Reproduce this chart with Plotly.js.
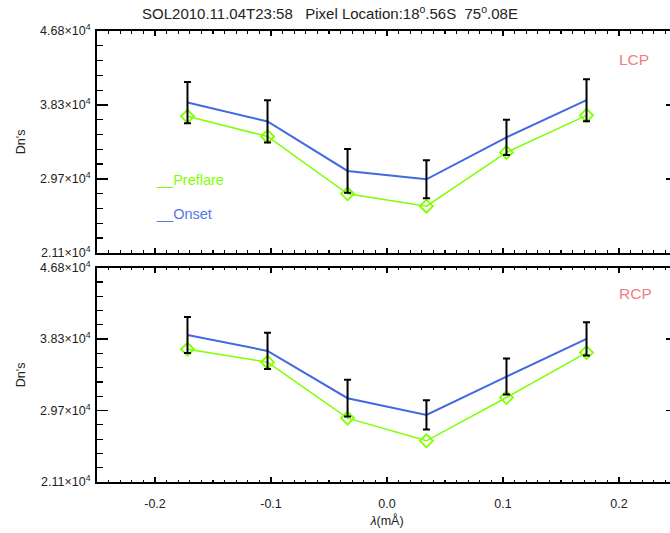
<!DOCTYPE html>
<html>
<head>
<meta charset="utf-8">
<script src="https://cdn.plot.ly/plotly-3.0.1.min.js"></script>
<style>
html, body { margin: 0; padding: 0; overflow: hidden; background: #fff; width: 670px; height: 533px; }
#chart { width: 680px; height: 533px; }
</style>
</head>
<body>
<div id="chart"></div>
<script>
// ---- data ----
const wavelength = [-0.172, -0.103, -0.034, 0.034, 0.103, 0.172];
const lcpOnset = [38510, 36320, 30580, 29610, 34480, 38780];
const lcpPreflare = [36910, 34570, 27930, 26490, 32730, 37020];
const lcpErr = [2390, 2440, 2540, 2200, 2040, 2440];
const rcpOnset = [38740, 36820, 31150, 29150, 33740, 38260];
const rcpPreflare = [37020, 35470, 28760, 26040, 31230, 36620];
const rcpErr = [2160, 2180, 2200, 1760, 2160, 2000];
const yTickVals = [21100, 29667, 38233, 46800];
const yTickText = ['2.11×10<sup>4</sup>', '2.97×10<sup>4</sup>', '3.83×10<sup>4</sup>', '4.68×10<sup>4</sup>'];
const xTickVals = [-0.2, -0.1, 0.0, 0.1, 0.2];
const xTickText = ['-0.2', '-0.1', '0.0', '0.1', '0.2'];
const panelLabels = ['LCP', 'RCP'];
const seriesNames = ['Preflare', 'Onset'];

const blue = '#4169E1';
const green = '#7FFF00';
const font = 'Liberation Sans, Arial, Helvetica, sans-serif';

function panel(xa, ya, onset, pre, err) {
  return [
    { x: wavelength, y: onset, xaxis: xa, yaxis: ya, mode: 'lines', type: 'scatter',
      line: { color: blue, width: 2 }, hoverinfo: 'skip', showlegend: false },
    { x: wavelength, y: pre, xaxis: xa, yaxis: ya, mode: 'lines+markers', type: 'scatter',
      line: { color: green, width: 1.5 },
      marker: { symbol: 'diamond-open', size: 10, color: green, line: { color: green, width: 1.8 } },
      hoverinfo: 'skip', showlegend: false },
    { x: wavelength, y: onset, xaxis: xa, yaxis: ya, mode: 'markers', type: 'scatter',
      marker: { size: 1, opacity: 0 },
      error_y: { type: 'data', array: err, visible: true, color: '#000', thickness: 2, width: 3.5 },
      hoverinfo: 'skip', showlegend: false }
  ];
}

const data = panel('x', 'y', lcpOnset, lcpPreflare, lcpErr)
  .concat(panel('x2', 'y2', rcpOnset, rcpPreflare, rcpErr));

function xAxis(anchor, labels) {
  return {
    anchor: anchor, range: [-0.25, 0.25], domain: [0, 1],
    tickvals: xTickVals, ticktext: xTickText, showticklabels: labels,
    ticks: 'inside', ticklen: 5, tickwidth: 1.5, tickcolor: '#000',
    ticklabelstandoff: 9,
    minor: { dtick: 0.01, tick0: 0, ticks: 'inside', ticklen: 2.5, tickwidth: 1.2, tickcolor: '#000', showgrid: false },
    showline: true, linecolor: '#000', linewidth: 2, mirror: 'allticks',
    showgrid: false, zeroline: false,
    tickfont: { family: font, size: 12.5, color: '#222' },
    title: labels ? { text: '<i>λ</i>(mÅ)', font: { family: font, size: 12.5, color: '#222' }, standoff: 6 } : { text: '' }
  };
}
function yAxis(anchor, domain) {
  return {
    anchor: anchor, domain: domain, range: [21100, 46800],
    tickvals: yTickVals, ticktext: yTickText,
    ticks: 'inside', ticklen: 11, tickwidth: 1.5, tickcolor: '#000',
    ticklabelstandoff: 2,
    minor: { dtick: (46800 - 21100) / 15, tick0: 21100, ticks: 'inside', ticklen: 5.5, tickwidth: 1.2, tickcolor: '#000', showgrid: false },
    showline: true, linecolor: '#000', linewidth: 2, mirror: 'allticks',
    showgrid: false, zeroline: false,
    tickfont: { family: font, size: 12.5, color: '#222' },
    title: { text: "Dn's", font: { family: font, size: 12.5, color: '#222' }, standoff: 12 }
  };
}

const layout = {
  width: 680, height: 533,
  margin: { l: 97, r: 3, t: 31, b: 51 },
  paper_bgcolor: '#fff', plot_bgcolor: '#fff',
  font: { family: font, color: '#222' },
  showlegend: false,
  title: {
    text: 'SOL2010.11.04T23:58   Pixel Location:18<sup>o</sup>.56S  75<sup>o</sup>.08E',
    font: { family: font, size: 15, color: '#222' },
    x: 330 / 680, xanchor: 'center', xref: 'container',
    y: 1 - 14 / 533, yanchor: 'middle', yref: 'container'
  },
  xaxis: xAxis('y', false),
  yaxis: yAxis('x', [0.5084, 1]),
  xaxis2: xAxis('y2', true),
  yaxis2: yAxis('x2', [0, 0.4752]),
  annotations: [
    { text: '__' + seriesNames[0], xref: 'paper', yref: 'paper', x: 0.0983, y: 0.6696,
      xanchor: 'left', yanchor: 'middle', showarrow: false, font: { family: font, size: 14.5, color: green } },
    { text: '__' + seriesNames[1], xref: 'paper', yref: 'paper', x: 0.0983, y: 0.594,
      xanchor: 'left', yanchor: 'middle', showarrow: false, font: { family: font, size: 14.5, color: '#5577e6' } },
    { text: panelLabels[0], xref: 'paper', yref: 'paper', x: 0.926, y: 0.9357,
      xanchor: 'center', yanchor: 'middle', showarrow: false, font: { family: font, size: 15.5, color: '#F08080' } },
    { text: panelLabels[1], xref: 'paper', yref: 'paper', x: 0.929, y: 0.419,
      xanchor: 'center', yanchor: 'middle', showarrow: false, font: { family: font, size: 15.5, color: '#F08080' } }
  ]
};

Plotly.newPlot('chart', data, layout, { displayModeBar: false, staticPlot: true });
</script>
</body>
</html>
